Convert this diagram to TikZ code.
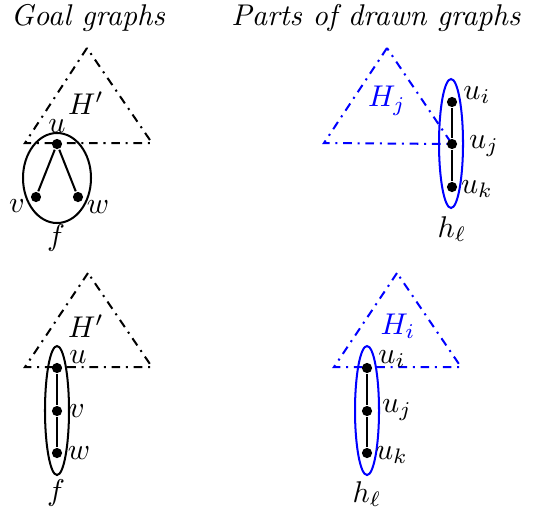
\documentclass[tikz,border=0pt]{standalone}
\begin{document}
\begin{tikzpicture}[x=0.347pt,y=-0.347pt,line width=0.7pt,
  every node/.append style={scale=1.04},
  vtx/.style={circle,fill,inner sep=0pt,minimum size=3.4pt},
  tri/.style={dashdotted},
  lbl/.style={inner sep=0pt}]
  \useasboundingbox (0,0) rectangle (539,515);
  \node[anchor=base] (goal) at (88,25) {\textit{Goal graphs}};
  \node[anchor=base] (parts) at (376,25) {\textit{Parts of drawn graphs}};

  % goal graph, top
  \draw[tri] (87,48) -- (25,143) -- (152,143) -- cycle;
  \node[lbl] (Ha) at (86,103) {$H'$};
  \node[vtx] (ua) at (57,144) {};
  \node[vtx] (va) at (36,197) {};
  \node[vtx] (wa) at (78,197) {};
  \draw (ua) -- (va) (ua) -- (wa);
  \draw (57,178) ellipse [x radius=34, y radius=45];
  \node[lbl] at (57,126) {$u$};
  \node[lbl] at (17,206) {$v$};
  \node[lbl] at (98,207) {$w$};
  \node[lbl] at (56,238) {$f$};

  % drawn part, top
  \draw[tri,blue] (387,48) -- (324,143) -- (452,144) -- cycle;
  \node[lbl,blue] (Hj) at (387,101) {$H_j$};
  \node[vtx] (uia) at (452,102) {};
  \node[vtx] (uja) at (452,144) {};
  \node[vtx] (uka) at (452,187) {};
  \draw (uia) -- (uja) -- (uka);
  \draw[blue] (451,143.5) ellipse [x radius=12, y radius=64.5];
  \node[lbl] at (477,95) {$u_i$};
  \node[lbl] at (484,146) {$u_j$};
  \node[lbl] at (477,189) {$u_k$};
  \node[lbl] at (452,229) {$h_\ell$};

  % goal graph, bottom
  \draw[tri] (88,273) -- (25,367) -- (152,367) -- cycle;
  \node[lbl] (Hb) at (86,326) {$H'$};
  \node[vtx] (ub) at (57,368) {};
  \node[vtx] (vb) at (57,411) {};
  \node[vtx] (wb) at (57,453) {};
  \draw (ub) -- (vb) -- (wb);
  \draw (57,410.5) ellipse [x radius=12, y radius=64.5];
  \node[lbl] at (78,357) {$u$};
  \node[lbl] at (77,411) {$v$};
  \node[lbl] at (79,453) {$w$};
  \node[lbl] at (56,493) {$f$};

  % drawn part, bottom
  \draw[tri,blue] (397,273) -- (334,367) -- (461,367) -- cycle;
  \node[lbl,blue] (Hi) at (398,326) {$H_i$};
  \node[vtx] (uib) at (367,368) {};
  \node[vtx] (ujb) at (367,411) {};
  \node[vtx] (ukb) at (367,453) {};
  \draw (uib) -- (ujb) -- (ukb);
  \draw[blue] (367,410.5) ellipse [x radius=12, y radius=64.5];
  \node[lbl] at (392,359) {$u_i$};
  \node[lbl] at (397,410) {$u_j$};
  \node[lbl] at (392,455) {$u_k$};
  \node[lbl] at (367,494) {$h_\ell$};
\end{tikzpicture}
\end{document}
